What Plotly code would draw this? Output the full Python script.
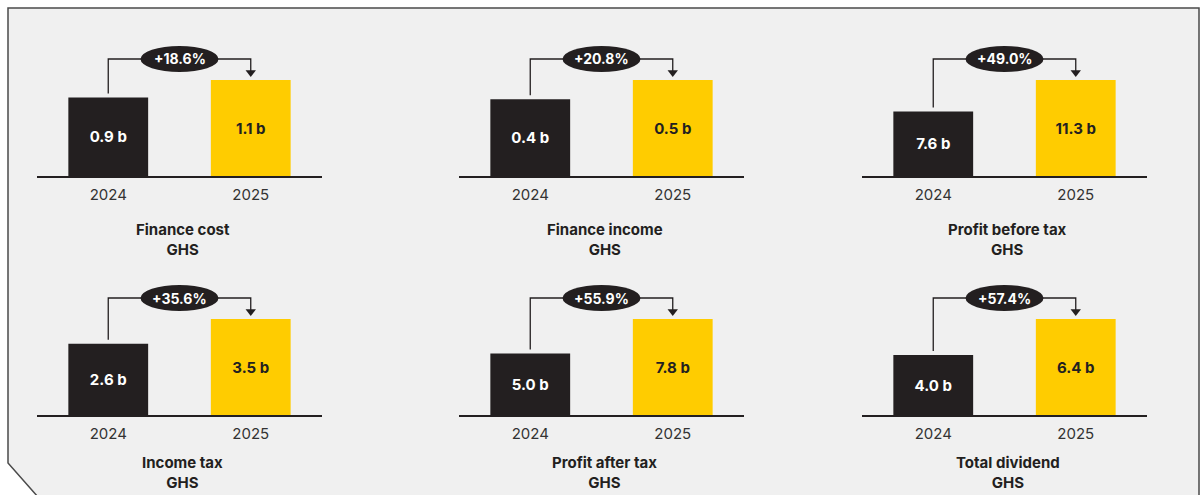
import plotly.graph_objects as go

# Year-on-year financial highlights (GHS, billions)
titles = ["Finance cost", "Finance income", "Profit before tax",
          "Income tax", "Profit after tax", "Total dividend"]
unit = "GHS"
years = ["2024", "2025"]
v2024 = [0.9, 0.4, 7.6, 2.6, 5.0, 4.0]
v2025 = [1.1, 0.5, 11.3, 3.5, 7.8, 6.4]
growth = ["+18.6%", "+20.8%", "+49.0%", "+35.6%", "+55.9%", "+57.4%"]

W, H = 1203, 495
DARK = "#231f20"
YELLOW = "#ffcc00"
BG = "#f0f0f0"
FONT = "Inter"

col_px = [(37, 322), (459, 744), (862, 1147)]   # left/right of each panel (px)
row_base = [176, 415]                            # baseline of each row (px)
plot_h = 136                                     # panel height above baseline (px)
full_h = 96                                      # pixel height of the 2025 bar
title_y = [239, 472]                             # centre of the two-line captions (px)

def px_x(p):
    return p / W

def px_y(p):
    return 1 - p / H

fig = go.Figure()
layout = dict(
    width=W, height=H, margin=dict(l=0, r=0, t=0, b=0),
    paper_bgcolor="white", plot_bgcolor="rgba(0,0,0,0)",
    showlegend=False, shapes=[], annotations=[],
    font=dict(family=FONT, color=DARK),
)

# panel frame with the clipped lower-left corner
layout["shapes"].append(dict(
    type="path", xref="paper", yref="paper", layer="below",
    path=(f"M {px_x(8)},{px_y(8)} L {px_x(1199)},{px_y(8)} "
          f"L {px_x(1199)},{px_y(497)} L {px_x(38)},{px_y(497)} "
          f"L {px_x(8)},{px_y(463)} Z"),
    fillcolor=BG, line=dict(color="#4a4a4a", width=1.5),
))

for i in range(6):
    r, c = divmod(i, 3)
    n = i + 1
    xa = "x" if n == 1 else f"x{n}"
    ya = "y" if n == 1 else f"y{n}"
    a, b = v2024[i], v2025[i]
    scale = b / full_h                       # value per pixel in this panel
    ymax = plot_h * scale
    base = row_base[r]

    fig.add_trace(go.Bar(
        x=years, y=[a, b], xaxis=xa, yaxis=ya,
        marker=dict(color=[DARK, YELLOW], line=dict(width=0)),
        width=0.56,
        texttemplate="%{y:.1f} b", textposition="inside",
        insidetextanchor="middle", textangle=0,
        textfont=dict(family=FONT, size=15, weight="bold",
                      color=["white", DARK]),
        hoverinfo="skip",
    ))

    y_conn = 117 * scale
    y_start = a + 4 * scale
    y_tip_line = 101 * scale
    # elbow connector from the 2024 bar to the 2025 bar
    fig.add_trace(go.Scatter(
        x=[years[0], years[0], years[1], years[1]],
        y=[y_start, y_conn, y_conn, y_tip_line],
        xaxis=xa, yaxis=ya, mode="lines",
        line=dict(color=DARK, width=1.3), hoverinfo="skip",
    ))
    fig.add_trace(go.Scatter(
        x=[years[1]], y=[103.5 * scale], xaxis=xa, yaxis=ya, mode="markers",
        marker=dict(symbol="triangle-down", size=9, color=DARK),
        hoverinfo="skip", cliponaxis=False,
    ))
    # growth badge
    layout["shapes"].append(dict(
        type="circle", xref=xa, yref=ya,
        xsizemode="pixel", xanchor=0.5, x0=-39, x1=39,
        ysizemode="pixel", yanchor=y_conn, y0=-13, y1=13,
        fillcolor=DARK, line=dict(width=0), layer="above",
    ))
    layout["annotations"].append(dict(
        x=0.5, y=y_conn, xref=xa, yref=ya, showarrow=False,
        text=f"<b>{growth[i]}</b>",
        font=dict(family=FONT, size=14, color="white"),
    ))
    # caption under the panel
    x0, x1 = col_px[c]
    layout["annotations"].append(dict(
        x=px_x((x0 + x1) / 2 + 3), y=px_y(title_y[r]), xref="paper", yref="paper",
        xanchor="center", yanchor="middle",
        showarrow=False, text=f"<b>{titles[i]}<br>{unit}</b>",
        font=dict(family=FONT, size=15, color=DARK),
    ))

    layout["xaxis" if n == 1 else f"xaxis{n}"] = dict(
        domain=[px_x(x0), px_x(x1)], anchor=ya, type="category",
        range=[-0.5, 1.5], showline=True, linecolor=DARK, linewidth=1.5,
        showgrid=False, zeroline=False, ticks="", fixedrange=True,
        ticklabelstandoff=4,
        tickfont=dict(family=FONT, size=15, color="#333333"),
    )
    layout["yaxis" if n == 1 else f"yaxis{n}"] = dict(
        domain=[px_y(base), px_y(base - plot_h)], anchor=xa,
        range=[0, ymax], showgrid=False, zeroline=False,
        showticklabels=False, showline=False, fixedrange=True,
    )

fig.update_layout(**layout)
fig.write_html("out.html")
